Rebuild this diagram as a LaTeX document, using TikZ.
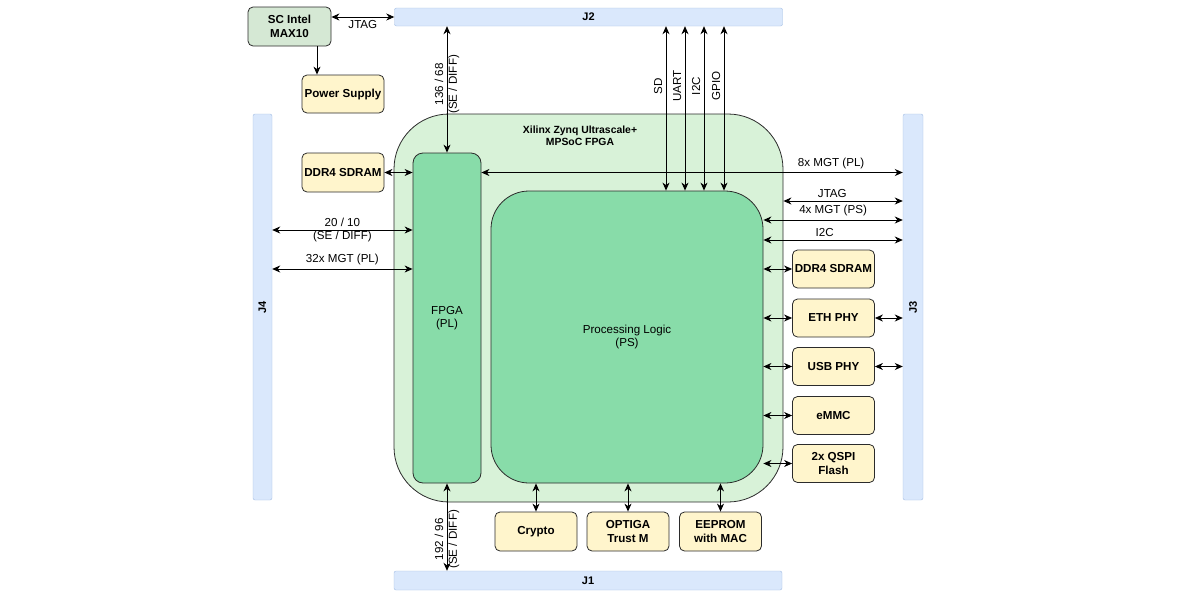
\documentclass[tikz,border=0pt]{standalone}
\usepackage{fontspec}
\setmainfont{Liberation Sans}
\usetikzlibrary{arrows.meta}

\definecolor{barblue}{HTML}{DAE8FC}
\definecolor{barline}{HTML}{A3BDE3}
\definecolor{socgreen}{HTML}{D8F2D8}
\definecolor{logicgreen}{HTML}{88DCA9}
\definecolor{scgreen}{HTML}{D5E8D4}
\definecolor{chipyellow}{HTML}{FFF5CC}
\definecolor{edge}{HTML}{2B2B2B}

\begin{document}
\begin{tikzpicture}[
    x=1pt, y=-1pt,
    >={Stealth[length=8pt,width=7pt,inset=2.5pt]},
    arr/.style={line width=0.9pt, <->},
    lab/.style={font=\fontsize{11.6}{13.6}\selectfont, align=center},
    bar/.style={rectangle, draw=barline, fill=barblue, rounded corners=2pt,
      font=\fontsize{11}{13}\selectfont\bfseries},
    chip/.style={rectangle, draw=edge, fill=chipyellow, rounded corners=5pt,
      minimum width=82pt, minimum height=38pt, inner sep=1pt, align=center,
      line width=0.8pt, font=\fontsize{11.6}{13.6}\selectfont\bfseries},
    logic/.style={rectangle, draw=edge, fill=logicgreen, line width=0.8pt,
      align=center, font=\fontsize{11.6}{13}\selectfont},
  ]
  \useasboundingbox (0,0) rectangle (1200,600);

  % connectors and bars
  \node[bar, minimum width=388pt, minimum height=18pt] (j2) at (588.5,17) {J2};
  \node[bar, minimum width=388pt, minimum height=19pt] (j1) at (588,580.5) {J1};
  \node[bar, minimum width=19pt, minimum height=386pt] (j4) at (262.5,307) {};
  \node[rotate=90, font=\fontsize{11}{13}\selectfont\bfseries] at (j4) {J4};
  \node[bar, minimum width=20pt, minimum height=386pt] (j3) at (913,307) {};
  \node[rotate=90, font=\fontsize{11}{13}\selectfont\bfseries] at (j3) {J3};

  % the SoC
  \node[rectangle, draw=edge, fill=socgreen, line width=0.8pt,
    minimum width=389pt, minimum height=388pt, rounded corners=55pt,
  ] (zynq) at (588.5,308) {};
  \node[font=\fontsize{10.4}{12}\selectfont\bfseries, align=center] (title) at (580,136)
    {Xilinx Zynq Ultrascale+\\MPSoC FPGA};
  \node[logic, minimum width=68pt, minimum height=330pt, rounded corners=10pt]
    (fpga) at (447,318) {FPGA\\(PL)};
  \node[logic, minimum width=272pt, minimum height=292pt, rounded corners=38pt]
    (ps) at (627,337) {Processing Logic\\(PS)};

  % chips
  \node[chip, fill=scgreen, minimum width=83pt, minimum height=39pt] (sc) at (289.5,26.5) {SC Intel\\MAX10};
  \node[chip] (psu) at (343,94) {Power Supply};
  \node[chip, minimum height=39pt] (ddrpl) at (343,172.5) {DDR4 SDRAM};
  \node[chip] (ddrps) at (833.5,269) {DDR4 SDRAM};
  \node[chip] (eth) at (833.5,318) {ETH PHY};
  \node[chip] (usb) at (833.5,366.5) {USB PHY};
  \node[chip] (emmc) at (833.5,415.5) {eMMC};
  \node[chip] (qspi) at (833.5,463.5) {2x QSPI\\Flash};
  \node[chip, minimum height=39pt] (crypto) at (536,531.5) {Crypto};
  \node[chip, minimum height=39pt] (optiga) at (628,531.5) {OPTIGA\\Trust M};
  \node[chip, minimum height=39pt] (eeprom) at (720.5,531.5) {EEPROM\\with MAC};

  \coordinate (jtagrow) at (0,201);
  \coordinate (mgtrow) at (0,220);
  \coordinate (ictrow) at (0,240);
  \coordinate (serow) at (0,230);
  \coordinate (mgtlrow) at (0,269);

  % top
  \draw[arr] (sc.east |- j2.west) -- (j2.west) node[lab, midway, below] {JTAG};
  \draw[line width=0.9pt, ->] ([xshift=27.5pt]sc.south) -- ([xshift=27.5pt]sc.south |- psu.north);
  \draw[arr] (fpga.north |- j2.south) -- (fpga.north)
    node[lab, pos=0.46, rotate=90] {136 / 68\\(SE / DIFF)};
  \foreach \x/\sig in {666/SD, 685/UART, 704/I2C, 724/GPIO}
    \draw[arr] (\x,0 |- j2.south) -- (\x,0 |- ps.north)
      node[lab, pos=0.364, rotate=90, above] {\sig};

  % right
  \draw[arr] (fpga.east |- ddrpl.east) -- (j3.west |- ddrpl.east)
    node[lab, pos=0.83, above] {8x MGT (PL)};
  \draw[arr] (ddrpl.east) -- (fpga.west |- ddrpl.east);
  \draw[arr] (zynq.east |- jtagrow) -- (j3.west |- jtagrow) node[lab, pos=0.41, above] {JTAG};
  \draw[arr] (ps.east |- mgtrow) -- (j3.west |- mgtrow) node[lab, midway, above] {4x MGT (PS)};
  \draw[arr] (ps.east |- ictrow) -- (j3.west |- ictrow) node[lab, pos=0.44, above] {I2C};
  \foreach \c in {ddrps, eth, usb, emmc, qspi}
    \draw[arr] (ps.east |- \c.west) -- (\c.west);
  \foreach \c in {eth, usb}
    \draw[arr] (\c.east) -- (\c.east -| j3.west);

  % left
  \draw[arr] (j4.east |- serow) -- (fpga.west |- serow) node[lab, midway] {20 / 10\\(SE / DIFF)};
  \draw[arr] (j4.east |- mgtlrow) -- (fpga.west |- mgtlrow) node[lab, midway, above] {32x MGT (PL)};

  % bottom
  \draw[arr] (fpga.south) -- (fpga.south |- j1.north)
    node[lab, pos=0.64, rotate=90] {192 / 96\\(SE / DIFF)};
  \foreach \c in {crypto, optiga, eeprom}
    \draw[arr] (\c.north |- ps.south) -- (\c.north);
\end{tikzpicture}
\end{document}
